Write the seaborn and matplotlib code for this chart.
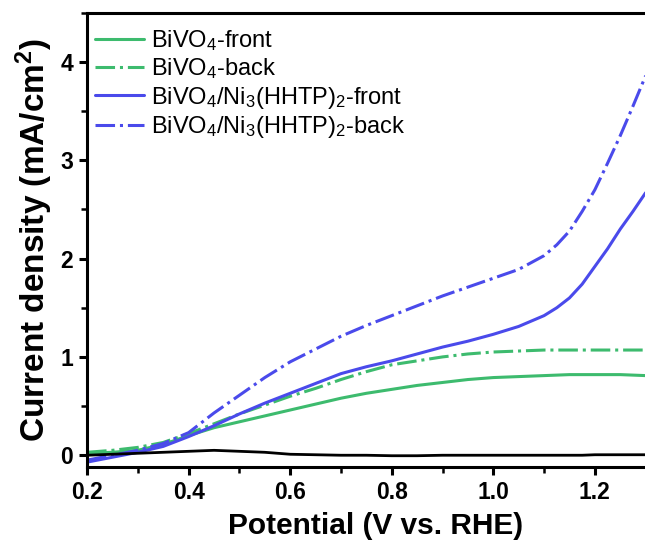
import numpy as np
import pandas as pd
import matplotlib
matplotlib.use("Agg")
import matplotlib.pyplot as plt
import seaborn as sns
from matplotlib.ticker import MultipleLocator

# Potential (V vs. RHE)
potential = [0.20, 0.25, 0.30, 0.35, 0.40, 0.45, 0.50, 0.55, 0.60, 0.65, 0.70,
             0.75, 0.80, 0.85, 0.90, 0.95, 1.00, 1.05, 1.10, 1.125, 1.15, 1.175,
             1.20, 1.225, 1.25, 1.275, 1.30]

# Current density (mA/cm2)
bivo4_front = [0.02, 0.03, 0.05, 0.11, 0.20, 0.28, 0.34, 0.40, 0.46, 0.52, 0.58,
               0.63, 0.67, 0.71, 0.74, 0.77, 0.79, 0.80, 0.81, 0.815, 0.82, 0.82,
               0.82, 0.82, 0.82, 0.815, 0.81]
bivo4_back = [0.03, 0.05, 0.08, 0.13, 0.22, 0.32, 0.42, 0.51, 0.60, 0.68, 0.77,
              0.85, 0.92, 0.96, 1.00, 1.03, 1.05, 1.06, 1.07, 1.07, 1.07, 1.07,
              1.07, 1.07, 1.07, 1.07, 1.07]
ni_front = [-0.07, -0.02, 0.03, 0.09, 0.19, 0.30, 0.42, 0.53, 0.63, 0.73, 0.83,
            0.90, 0.96, 1.03, 1.10, 1.16, 1.23, 1.31, 1.42, 1.50, 1.60, 1.74,
            1.92, 2.10, 2.30, 2.48, 2.67]
ni_back = [-0.05, 0.00, 0.05, 0.12, 0.23, 0.43, 0.61, 0.79, 0.95, 1.08, 1.21,
           1.32, 1.42, 1.52, 1.62, 1.71, 1.80, 1.89, 2.03, 2.14, 2.28, 2.48,
           2.70, 2.97, 3.25, 3.55, 3.86]
dark = [0.00, 0.01, 0.02, 0.03, 0.04, 0.05, 0.04, 0.03, 0.01, 0.005, 0.00,
        0.00, -0.005, -0.005, 0.00, 0.00, 0.00, 0.00, 0.00, 0.00, 0.00, 0.00,
        0.005, 0.005, 0.005, 0.005, 0.005]

labels = [r"BiVO$_4$-front", r"BiVO$_4$-back",
          r"BiVO$_4$/Ni$_3$(HHTP)$_2$-front", r"BiVO$_4$/Ni$_3$(HHTP)$_2$-back"]
green = "#3dbb6e"
blue = "#4a4aeb"

sns.set_style("ticks")
plt.rcParams['font.family'] = ['Liberation Sans', 'DejaVu Sans']
plt.rcParams['mathtext.fontset'] = 'custom'
plt.rcParams['mathtext.rm'] = 'Liberation Sans'
plt.rcParams['mathtext.it'] = 'Liberation Sans'
plt.rcParams['mathtext.bf'] = 'Liberation Sans:bold'
plt.rcParams['text.color'] = 'black'
plt.rcParams['axes.labelcolor'] = 'black'
plt.rcParams['xtick.color'] = 'black'
plt.rcParams['ytick.color'] = 'black'
plt.rcParams['axes.edgecolor'] = 'black'

fig = plt.figure(figsize=(6.45, 5.56), dpi=100)
ax = fig.add_axes([0.135, 0.160, 0.866, 0.817])

series = [
    (bivo4_front, labels[0], green, '-'),
    (bivo4_back, labels[1], green, '-.'),
    (ni_front, labels[2], blue, '-'),
    (ni_back, labels[3], blue, '-.'),
]
for vals, lab, col, ls in series:
    df = pd.DataFrame({'V': potential, 'J': vals})
    sns.lineplot(data=df, x='V', y='J', ax=ax, color=col, linestyle=ls,
                 linewidth=2.2, label=lab)

df_dark = pd.DataFrame({'V': potential, 'J': dark})
sns.lineplot(data=df_dark, x='V', y='J', ax=ax, color='black', linewidth=2.0,
             label='_nolegend_')

ax.set_xlim(0.2, 1.3)
ax.set_ylim(-0.12, 4.5)
ax.xaxis.set_minor_locator(MultipleLocator(0.1))
ax.yaxis.set_minor_locator(MultipleLocator(0.5))
ax.set_xticks([0.2, 0.4, 0.6, 0.8, 1.0, 1.2])
ax.set_xticklabels(['0.2', '0.4', '0.6', '0.8', '1.0', '1.2'])
ax.set_yticks([0, 1, 2, 3, 4])
ax.set_yticklabels(['0', '1', '2', '3', '4'])

for side in ['left', 'bottom', 'top']:
    ax.spines[side].set_linewidth(2.2)
ax.spines['right'].set_visible(False)
ax.tick_params(which='major', direction='out', length=6, width=2.2,
               labelsize=16.5, pad=4)
ax.tick_params(which='minor', direction='out', length=4, width=1.8)
for t in ax.get_xticklabels() + ax.get_yticklabels():
    t.set_fontweight('bold')

ax.set_xlabel('Potential (V vs. RHE)', fontsize=21.5, fontweight='bold', labelpad=6)
ax.xaxis.label.set_x(0.516)
ax.set_ylabel(r'Current density (mA/cm$^\mathbf{2}$)', fontsize=24,
              fontweight='bold', labelpad=4)

leg = ax.legend(loc='upper left', frameon=False, fontsize=17, handlelength=2.1,
                handletextpad=0.3, labelspacing=0.14, borderaxespad=0.2,
                bbox_to_anchor=(-0.012, 0.997))

fig.savefig('out.png', dpi=100)
